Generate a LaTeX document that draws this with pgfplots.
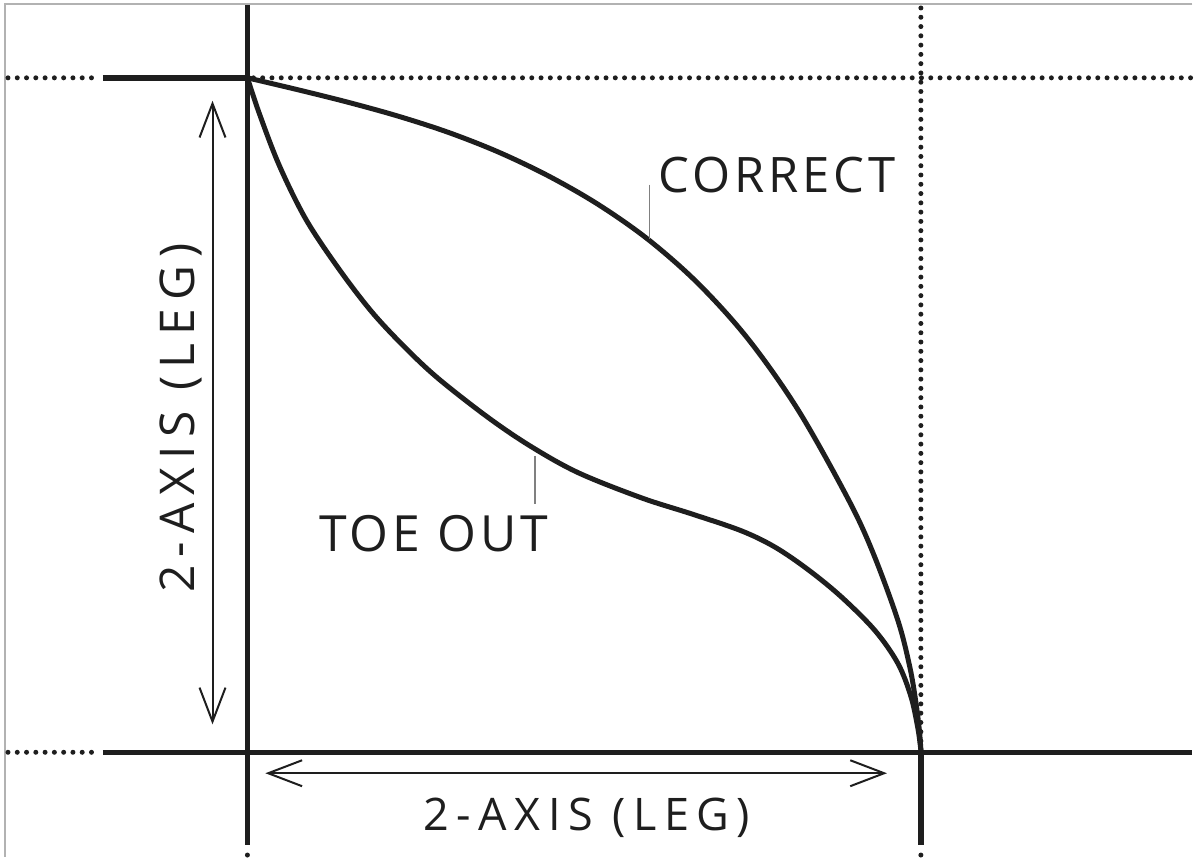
\documentclass[border=0pt]{standalone}
\usepackage{pgfplots}
\pgfplotsset{compat=1.18}
\usepackage{fontspec}
\setmainfont{Open Sans}
\newfontfamily\lblfont[LetterSpace=8]{Open Sans}
\newfontfamily\axfont[LetterSpace=17]{Open Sans}
\usetikzlibrary{arrows.meta}
\definecolor{ink}{HTML}{1E1E1E}
\begin{document}
\begin{tikzpicture}
\begin{axis}[
  x=1pt, y=1pt, xmin=0, xmax=1195, ymin=0, ymax=859,
  y dir=reverse, hide axis, clip=false,
]
% bounding frame (invisible)
\addplot[draw=none, forget plot] coordinates {(0,0) (1195,0) (1195,859) (0,859) (0,0)};
% gray border (top and left)
\addplot[draw=black!30, line width=1.5pt] coordinates {(1195,4) (5,4) (5,859)};
% solid lines
\addplot[ink, line width=5.5pt] coordinates {(248,5) (248,847)};
\addplot[ink, line width=5.5pt] coordinates {(103,78) (248,78)};
\addplot[ink, line width=5.5pt] coordinates {(103,754) (1195,754)};
\addplot[ink, line width=5.5pt] coordinates {(923,752) (923,847)};
% dotted lines
\addplot[ink, line width=5pt, line cap=round, dash pattern=on 0pt off 9.3pt] coordinates {(8,78) (93,78)};
\addplot[ink, line width=5pt, line cap=round, dash pattern=on 0pt off 9.3pt] coordinates {(254,78) (1195,78)};
\addplot[ink, line width=5pt, line cap=round, dash pattern=on 0pt off 9.3pt] coordinates {(8,754) (93,754)};
\addplot[ink, line width=5pt, line cap=round, dash pattern=on 0pt off 9.3pt] coordinates {(923,8) (923,748)};
\addplot[ink, line width=5pt, line cap=round, dash pattern=on 0pt off 9.3pt] coordinates {(248,857) (248,866)};
\addplot[ink, line width=5pt, line cap=round, dash pattern=on 0pt off 9.3pt] coordinates {(923,857) (923,866)};
% CORRECT curve
\addplot[ink, line width=5pt, smooth, tension=0.55] coordinates {
 (248,78) (300,90.3) (350,102.8) (400,116.7) (450,132.9) (500,152.6)
 (550,176.5) (600,205.2) (650,240.3) (700,284.4) (750,340) (800,411)
 (850,500) (875,554) (900,622) (912,669) (918,704) (921.5,732) (923,752)};
% TOE OUT curve
\addplot[ink, line width=5pt, smooth, tension=0.55] coordinates {
 (248,78) (260,114) (280,166) (306.7,220) (340,270) (373,313)
 (406.7,349) (440,380) (490,419) (533,448) (580,474) (643,499)
 (693,515) (743,532) (777,548.5) (810,571) (843,598) (877,632)
 (900,665) (913,698) (920,730) (923,752)};
% leader lines
\addplot[black!50, line width=1.5pt] coordinates {(651,185) (651,240)};
\addplot[black!50, line width=1.5pt] coordinates {(536,457) (536,505)};
% dimension arrows
\addplot[ink, line width=2pt, {Straight Barb[length=34pt,width=26pt,line width=2pt]}-{Straight Barb[length=34pt,width=26pt,line width=2pt]}] coordinates {(213,101) (213,726)};
\addplot[ink, line width=2pt, {Straight Barb[length=34pt,width=26pt,line width=2pt]}-{Straight Barb[length=34pt,width=26pt,line width=2pt]}] coordinates {(266,775) (889,775)};
% labels
\node[anchor=base west, inner sep=0pt, text=ink] at (axis cs:660,193) {\lblfont\fontsize{49}{58}\selectfont CORRECT};
\node[anchor=base west, inner sep=0pt, text=ink] at (axis cs:320,553) {\lblfont\fontsize{50}{60}\selectfont TOE OUT};
\node[anchor=base, inner sep=0pt, text=ink] at (axis cs:588,832) {\axfont\fontsize{45}{54}\selectfont 2-AXIS (LEG)};
\node[anchor=base, inner sep=0pt, rotate=90, text=ink] at (axis cs:195,419) {\axfont\fontsize{48}{57}\selectfont 2-AXIS (LEG)};
\end{axis}
\end{tikzpicture}
\end{document}
